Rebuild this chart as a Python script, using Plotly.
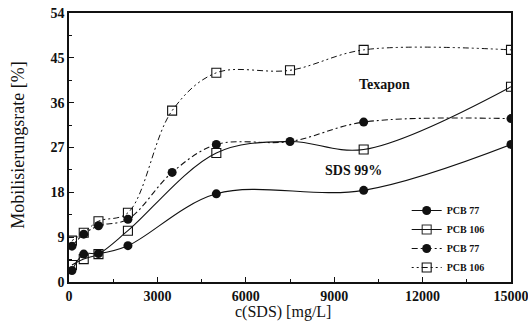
import plotly.graph_objects as go

# SDS 99% series (solid lines)
sds_x_pcb77 = [100, 500, 1000, 2000, 5000, 10000, 15000]
sds_y_pcb77 = [2.3, 5.6, 5.7, 7.3, 17.7, 18.4, 27.6]

sds_x_pcb106 = [100, 500, 1000, 2000, 5000, 7500, 10000, 15000]
sds_y_pcb106 = [3.4, 4.6, 5.6, 10.3, 25.9, 28.2, 26.6, 39.2]
sds_show_pcb106 = [1, 1, 1, 1, 1, 0, 1, 1]   # 7500 point is shared with the Texapon curve

# Texapon series (broken lines)
tex_x_pcb77 = [100, 500, 1000, 2000, 3500, 5000, 7500, 10000, 15000]
tex_y_pcb77 = [7.2, 9.6, 11.3, 12.6, 22.0, 27.6, 28.2, 32.1, 32.8]

tex_x_pcb106 = [100, 500, 1000, 2000, 3500, 5000, 7500, 10000, 15000]
tex_y_pcb106 = [8.3, 9.9, 12.2, 13.9, 34.4, 42.0, 42.5, 46.6, 46.6]

x_ticks = [0, 3000, 6000, 9000, 12000, 15000]
y_ticks = [0, 9, 18, 27, 36, 45, 54]

serif = "Liberation Serif"
black = "#111111"

fig = go.Figure()

circle = dict(symbol="circle", size=9, color=black, line=dict(color=black, width=0))
square = dict(symbol="square-open", size=9, color=black, line=dict(color=black, width=1.1))

fig.add_trace(go.Scatter(
    x=sds_x_pcb77, y=sds_y_pcb77, name="PCB 77", mode="lines+markers",
    line=dict(color=black, width=1.1, shape="spline", smoothing=1.0),
    marker=circle,
))
fig.add_trace(go.Scatter(
    x=sds_x_pcb106, y=sds_y_pcb106, name="PCB 106", mode="lines+markers",
    line=dict(color=black, width=1.1, shape="spline", smoothing=1.0),
    marker=dict(square, opacity=sds_show_pcb106),
))
fig.add_trace(go.Scatter(
    x=tex_x_pcb77, y=tex_y_pcb77, name="PCB 77", mode="lines+markers",
    line=dict(color=black, width=1.1, shape="spline", smoothing=1.0,
              dash="6px,3px,2px,3px"),
    marker=circle,
))
fig.add_trace(go.Scatter(
    x=tex_x_pcb106, y=tex_y_pcb106, name="PCB 106", mode="lines+markers",
    line=dict(color=black, width=1.0, shape="spline", smoothing=1.0,
              dash="2px,3px,2px,3px,6px,3px"),
    marker=square,
))

fig.add_annotation(x=10700, y=39.7, text="Texapon", showarrow=False,
                   font=dict(family=serif, size=14, color=black, weight="bold"))
fig.add_annotation(x=9650, y=22.4, text="SDS 99%", showarrow=False,
                   font=dict(family=serif, size=14, color=black, weight="bold"))

# axis titles placed in paper coordinates (plot height 269 px)
fig.add_annotation(text="c(SDS) [mg/L]", xref="paper", yref="paper",
                   x=0.485, y=-40 / 269, showarrow=False,
                   font=dict(family=serif, size=16, color=black),
                   xanchor="center", yanchor="bottom", borderpad=0)
fig.add_annotation(text="Mobilisierungsrate [%]", xref="paper", yref="paper",
                   x=-0.1154, y=0.51, showarrow=False,
                   font=dict(family=serif, size=18, color=black),
                   textangle=-90, xanchor="center", yanchor="middle")

axis_common = dict(
    showgrid=False, zeroline=False, showline=True, linecolor=black, linewidth=1.5,
    mirror=True, ticks="inside", ticklen=5, tickwidth=1.2, tickcolor=black,
    tickfont=dict(family=serif, size=14, color=black, weight="bold"),
    ticklabeloverflow="allow", automargin=False,
)

fig.update_xaxes(
    range=[0, 15000], tickvals=x_ticks, ticktext=[str(v) for v in x_ticks],
    minor=dict(ticks="inside", ticklen=3, tickwidth=1, tickcolor=black, dtick=1500),
    **axis_common,
)
fig.update_yaxes(
    range=[0, 54], tickvals=y_ticks, ticktext=[str(v) for v in y_ticks],
    minor=dict(ticks="inside", ticklen=3, tickwidth=1, tickcolor=black, dtick=4.5),
    **axis_common,
)

fig.update_layout(
    width=528, height=322,
    margin=dict(l=69, r=17, t=13, b=40),
    paper_bgcolor="white", plot_bgcolor="white",
    showlegend=True,
    legend=dict(x=0.764, y=0.0, xanchor="left", yanchor="bottom",
                bgcolor="rgba(0,0,0,0)", borderwidth=0,
                font=dict(family=serif, size=10, color=black, weight="bold"),
                itemwidth=30, tracegroupgap=0),
)

fig.write_html("out.html")
